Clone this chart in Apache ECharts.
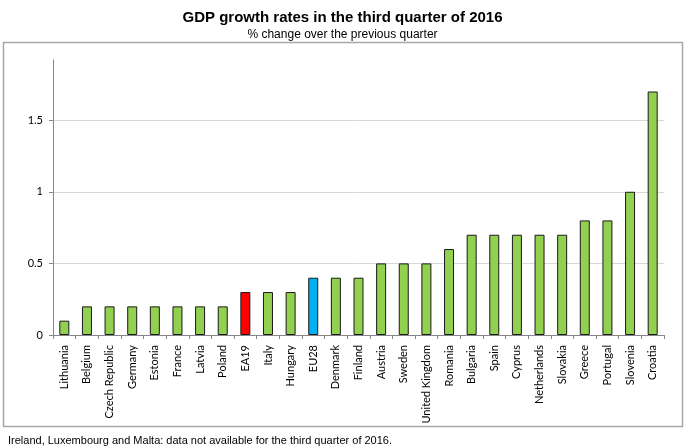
<!DOCTYPE html>
<html>
<head>
<meta charset="utf-8">
<script src="https://cdn.jsdelivr.net/npm/echarts@6/dist/echarts.min.js"></script>
<style>html,body{margin:0;padding:0;background:#fff;}#c{width:685px;height:446px;}</style>
</head>
<body>
<div id="c"></div>
<script>
const categories = ["Lithuania","Belgium","Czech Republic","Germany","Estonia","France","Latvia","Poland","EA19","Italy","Hungary","EU28","Denmark","Finland","Austria","Sweden","United Kingdom","Romania","Bulgaria","Spain","Cyprus","Netherlands","Slovakia","Greece","Portugal","Slovenia","Croatia"];
const values = [0.1,0.2,0.2,0.2,0.2,0.2,0.2,0.2,0.3,0.3,0.3,0.4,0.4,0.4,0.5,0.5,0.5,0.6,0.7,0.7,0.7,0.7,0.7,0.8,0.8,1.0,1.7];
const yTicks = [0, 0.5, 1, 1.5];
const highlight = {"EA19": "#FF0000", "EU28": "#00B0F0"};
const baseColor = "#92D050";

const chart = echarts.init(document.getElementById('c'), null, {renderer: 'canvas'});
chart.setOption({
  animation: false,
  backgroundColor: '#fff',
  title: [
    {text: 'GDP growth rates in the third quarter of 2016', left: 'center', top: 5,
     textStyle: {fontFamily: 'Liberation Sans', fontSize: 15, fontWeight: 'bold', color: '#000'}},
    {text: '% change over the previous quarter', left: 'center', top: 24,
     textStyle: {fontFamily: 'Liberation Sans', fontSize: 12, fontWeight: 'normal', color: '#000'}},
    {text: 'Ireland, Luxembourg and Malta: data not available for the third quarter of 2016.', left: 3, top: 430,
     textStyle: {fontFamily: 'Liberation Sans', fontSize: 11, fontWeight: 'normal', color: '#000'}}
  ],
  graphic: [{
    type: 'rect', shape: {x: 3.5, y: 42.5, width: 679, height: 384},
    style: {fill: 'none', stroke: '#a6a6a6', lineWidth: 1.5}, z: -1
  }],
  grid: {left: 53, right: 21, top: 60, bottom: 111, containLabel: false},
  xAxis: {
    type: 'category', data: categories,
    axisLine: {lineStyle: {color: '#868686'}},
    axisTick: {show: true, alignWithLabel: false, length: 4, lineStyle: {color: '#868686'}},
    axisLabel: {rotate: 90, interval: 0, fontFamily: 'Lato', fontSize: 11, color: '#000', margin: 10}
  },
  yAxis: {
    type: 'value', min: 0, max: 1.92, interval: 0.5,
    axisLine: {show: true, lineStyle: {color: '#868686'}},
    axisTick: {show: true, length: 4, lineStyle: {color: '#868686'}},
    axisLabel: {showMaxLabel: false, fontFamily: 'Lato', fontSize: 11, color: '#000', margin: 10,
      formatter: v => yTicks.includes(v) ? String(v) : ''},
    splitLine: {show: true, showMaxLine: false, lineStyle: {color: '#d9d9d9'}}
  },
  series: [{
    type: 'bar', barWidth: 10,
    data: values.map((v, i) => ({
      value: v,
      itemStyle: {color: highlight[categories[i]] || baseColor, borderColor: '#1a1a1a', borderWidth: 1}
    }))
  }]
});
</script>
</body>
</html>
